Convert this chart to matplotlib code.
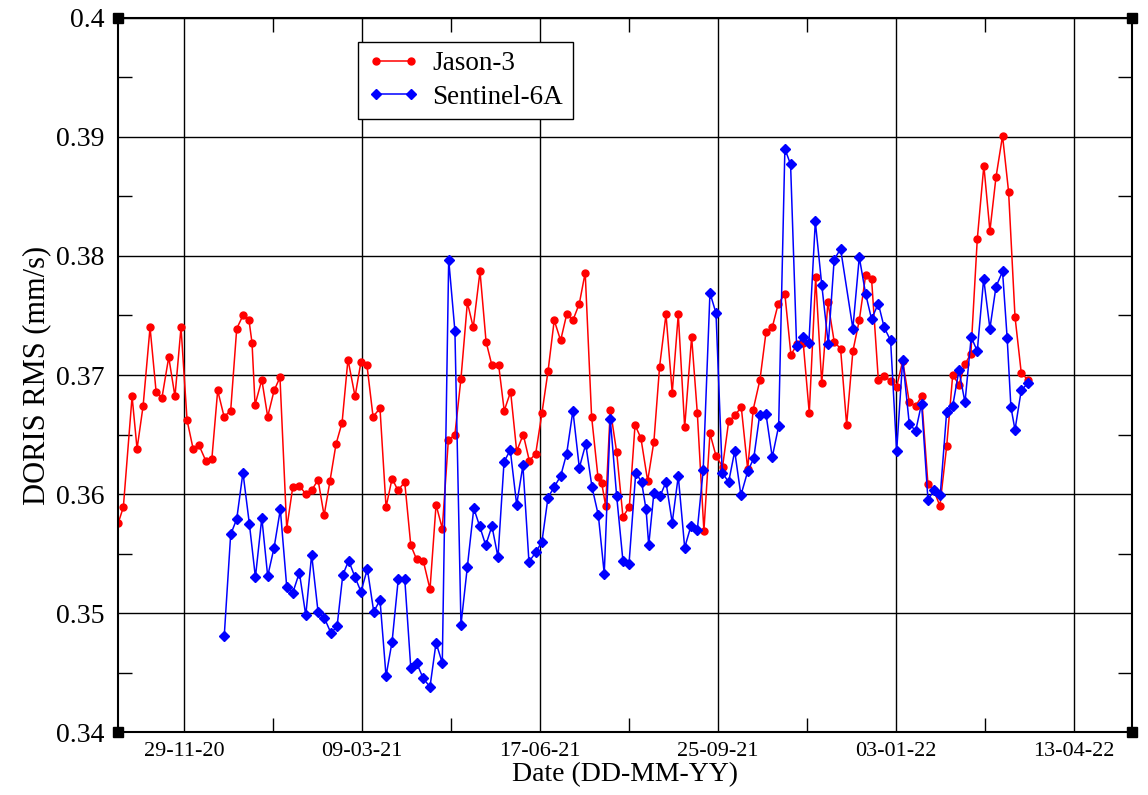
import numpy as np
import matplotlib
matplotlib.use('Agg')
import matplotlib.pyplot as plt
from matplotlib.ticker import MultipleLocator

# days since 29-11-20
jason_days = [-36.9, -34.1, -29.2, -26.4, -23.0, -19.1, -15.7, -12.4, -8.6, -5.1,
              -1.7, 1.7, 5.1, 8.4, 12.2, 15.6, 18.9, 22.5, 26.2, 29.6,
              33.1, 36.5, 38.2, 39.9, 43.7, 47.0, 50.6, 53.9, 57.7, 61.1,
              64.6, 68.5, 71.7, 75.3, 78.7, 82.0, 85.4, 88.8, 92.1, 96.1,
              99.4, 102.8, 106.2, 110.1, 113.5, 116.9, 120.2, 124.0, 127.4, 130.7,
              134.4, 138.2, 141.6, 145.1, 148.5, 152.2, 155.6, 159.2, 162.5, 166.3,
              169.7, 173.0, 176.8, 179.9, 183.5, 186.9, 190.6, 194.0, 197.6, 201.1,
              204.5, 208.0, 211.6, 215.0, 218.5, 222.1, 225.4, 229.0, 232.6, 234.7,
              236.9, 239.5, 243.1, 246.6, 250.2, 253.4, 256.7, 260.5, 264.0, 267.2,
              270.8, 274.3, 277.7, 281.3, 285.2, 288.4, 292.1, 295.5, 298.9, 302.6,
              306.0, 309.4, 313.1, 316.7, 319.8, 323.6, 327.0, 330.5, 333.9, 337.6,
              341.0, 344.6, 347.9, 351.3, 354.9, 358.3, 361.8, 365.3, 368.9, 372.3,
              375.8, 379.4, 383.0, 386.3, 390.1, 393.4, 397.0, 400.4, 403.8, 407.5,
              411.1, 414.4, 418.0, 421.3, 424.7, 428.5, 431.9, 435.4, 438.8, 442.1,
              445.7, 449.4, 452.8, 456.2, 459.9, 463.3, 466.9, 470.4, 474.0]
jason_rms = [0.3576, 0.3589, 0.3682, 0.3638, 0.3674, 0.3740, 0.3686, 0.3681, 0.3715, 0.3682,
             0.3740, 0.3662, 0.3638, 0.3641, 0.3628, 0.3629, 0.3687, 0.3665, 0.3670, 0.3739,
             0.3750, 0.3746, 0.3727, 0.3675, 0.3696, 0.3665, 0.3687, 0.3698, 0.3571, 0.3606,
             0.3607, 0.3600, 0.3603, 0.3612, 0.3582, 0.3611, 0.3642, 0.3660, 0.3713, 0.3682,
             0.3711, 0.3708, 0.3665, 0.3672, 0.3589, 0.3613, 0.3603, 0.3610, 0.3557, 0.3545,
             0.3544, 0.3520, 0.3591, 0.3571, 0.3645, 0.3650, 0.3697, 0.3761, 0.3740, 0.3787,
             0.3728, 0.3708, 0.3708, 0.3670, 0.3686, 0.3636, 0.3650, 0.3628, 0.3634, 0.3668,
             0.3703, 0.3746, 0.3729, 0.3751, 0.3746, 0.3760, 0.3786, 0.3665, 0.3614, 0.3609,
             0.3590, 0.3671, 0.3635, 0.3581, 0.3589, 0.3658, 0.3647, 0.3611, 0.3644, 0.3707,
             0.3751, 0.3685, 0.3751, 0.3656, 0.3732, 0.3668, 0.3569, 0.3651, 0.3632, 0.3623,
             0.3661, 0.3666, 0.3673, 0.3621, 0.3671, 0.3696, 0.3736, 0.3740, 0.3760, 0.3768,
             0.3717, 0.3726, 0.3727, 0.3668, 0.3782, 0.3693, 0.3761, 0.3728, 0.3722, 0.3658,
             0.3720, 0.3746, 0.3784, 0.3781, 0.3696, 0.3699, 0.3695, 0.3690, 0.3712, 0.3677,
             0.3674, 0.3682, 0.3608, 0.3603, 0.3590, 0.3640, 0.3700, 0.3692, 0.3709, 0.3718,
             0.3814, 0.3876, 0.3821, 0.3866, 0.3901, 0.3854, 0.3749, 0.3702, 0.3696]

s6a_days = [22.6, 26.2, 29.6, 33.1, 36.7, 40.1, 43.7, 47.0, 50.6, 54.1,
            57.7, 61.1, 64.8, 68.4, 71.7, 75.3, 78.8, 82.6, 86.0, 89.2,
            92.5, 96.1, 99.4, 103.0, 106.6, 110.1, 113.5, 116.9, 120.4, 124.0,
            127.4, 130.7, 134.4, 138.2, 141.6, 145.1, 148.7, 152.2, 155.6, 159.2,
            162.8, 166.1, 169.5, 173.0, 176.4, 179.8, 183.3, 186.9, 190.4, 193.8,
            197.6, 201.1, 204.5, 208.0, 211.6, 215.0, 218.5, 222.1, 225.7, 229.2,
            232.8, 236.1, 239.5, 243.1, 246.6, 250.0, 253.8, 257.1, 259.6, 261.1,
            264.0, 267.4, 270.8, 274.3, 277.7, 281.3, 284.8, 288.4, 291.7, 295.5,
            298.9, 302.4, 306.0, 309.4, 312.9, 316.7, 320.1, 323.4, 327.0, 330.5,
            334.1, 337.6, 340.8, 344.2, 347.6, 351.1, 354.7, 358.3, 362.0, 365.3,
            368.9, 375.8, 379.4, 383.0, 386.3, 390.1, 393.4, 397.0, 400.4, 403.8,
            407.5, 411.1, 414.4, 418.0, 421.3, 424.9, 428.5, 431.9, 435.4, 438.8,
            442.3, 445.7, 449.3, 452.8, 456.2, 459.9, 462.5, 464.6, 466.9, 470.4,
            474.0]
s6a_rms = [0.3481, 0.3566, 0.3579, 0.3618, 0.3575, 0.3530, 0.3580, 0.3531, 0.3555, 0.3587,
           0.3522, 0.3517, 0.3534, 0.3498, 0.3549, 0.3501, 0.3496, 0.3483, 0.3489, 0.3532,
           0.3544, 0.3530, 0.3518, 0.3537, 0.3501, 0.3511, 0.3447, 0.3476, 0.3529, 0.3529,
           0.3454, 0.3458, 0.3445, 0.3438, 0.3475, 0.3458, 0.3797, 0.3737, 0.3490, 0.3539,
           0.3588, 0.3573, 0.3557, 0.3573, 0.3547, 0.3627, 0.3637, 0.3591, 0.3624, 0.3543,
           0.3551, 0.3560, 0.3597, 0.3606, 0.3615, 0.3634, 0.3670, 0.3622, 0.3642, 0.3606,
           0.3582, 0.3533, 0.3663, 0.3598, 0.3544, 0.3541, 0.3618, 0.3610, 0.3587, 0.3557,
           0.3601, 0.3598, 0.3610, 0.3576, 0.3615, 0.3555, 0.3573, 0.3570, 0.3620, 0.3769,
           0.3752, 0.3618, 0.3610, 0.3636, 0.3599, 0.3619, 0.3630, 0.3666, 0.3667, 0.3631,
           0.3657, 0.3890, 0.3877, 0.3724, 0.3732, 0.3727, 0.3829, 0.3776, 0.3726, 0.3797,
           0.3806, 0.3739, 0.3799, 0.3768, 0.3747, 0.3760, 0.3740, 0.3729, 0.3636, 0.3713,
           0.3659, 0.3653, 0.3676, 0.3595, 0.3603, 0.3599, 0.3669, 0.3674, 0.3704, 0.3677,
           0.3732, 0.3720, 0.3781, 0.3739, 0.3774, 0.3787, 0.3731, 0.3673, 0.3654, 0.3687,
           0.3693]

date_ticks = [0, 100, 200, 300, 400, 500]
date_labels = ['29-11-20', '09-03-21', '17-06-21', '25-09-21', '03-01-22', '13-04-22']
rms_ticks = [0.34, 0.35, 0.36, 0.37, 0.38, 0.39, 0.40]
rms_labels = ['0.34', '0.35', '0.36', '0.37', '0.38', '0.39', '0.4']

plt.rcParams['font.family'] = ['Liberation Serif', 'DejaVu Serif']

fig = plt.figure(figsize=(11.48, 7.95), dpi=100)
ax = fig.add_axes([0.1028, 0.0792, 0.8832, 0.8982])

ax.plot(jason_days, jason_rms, color='#ff0000', lw=1.1, marker='o', ms=5,
        label='Jason-3')
ax.plot(s6a_days, s6a_rms, color='#0000ff', lw=1.1, marker='D', ms=5.5,
        label='Sentinel-6A')

ax.set_xlim(-37.1, 532.6)
ax.set_ylim(0.34, 0.40)
ax.set_xticks(date_ticks)
ax.set_xticklabels(date_labels, fontsize=16)
ax.xaxis.set_minor_locator(MultipleLocator(50))
ax.set_yticks(rms_ticks)
ax.set_yticklabels(rms_labels, fontsize=20)
ax.yaxis.set_minor_locator(MultipleLocator(0.005))

ax.grid(True, which='major', color='black', lw=1)
ax.tick_params(which='both', direction='in', top=True, right=True, color='black')
ax.tick_params(which='major', length=0)
ax.tick_params(axis='y', which='major', pad=10)
ax.tick_params(axis='x', which='major', pad=7)
ax.tick_params(which='minor', length=10, width=1)
for sp in ax.spines.values():
    sp.set_linewidth(1.5)

ax.set_xlabel('Date (DD-MM-YY)', fontsize=20, labelpad=1)
ax.set_ylabel('DORIS RMS (mm/s)', fontsize=22, labelpad=3)

# corner squares like the original plotting tool
ax.plot([0, 1, 0, 1], [0, 0, 1, 1], 's', color='black', ms=7,
        transform=ax.transAxes, clip_on=False, zorder=5)

leg = ax.legend(loc='upper left', bbox_to_anchor=(0.2367, 0.9664), fontsize=19.5,
                numpoints=2, handlelength=1.9, fancybox=False, framealpha=1,
                edgecolor='black', borderpad=0.35, labelspacing=0.3,
                handletextpad=0.5, borderaxespad=0)
leg.get_frame().set_linewidth(1)

fig.savefig('out.png', dpi=100)
